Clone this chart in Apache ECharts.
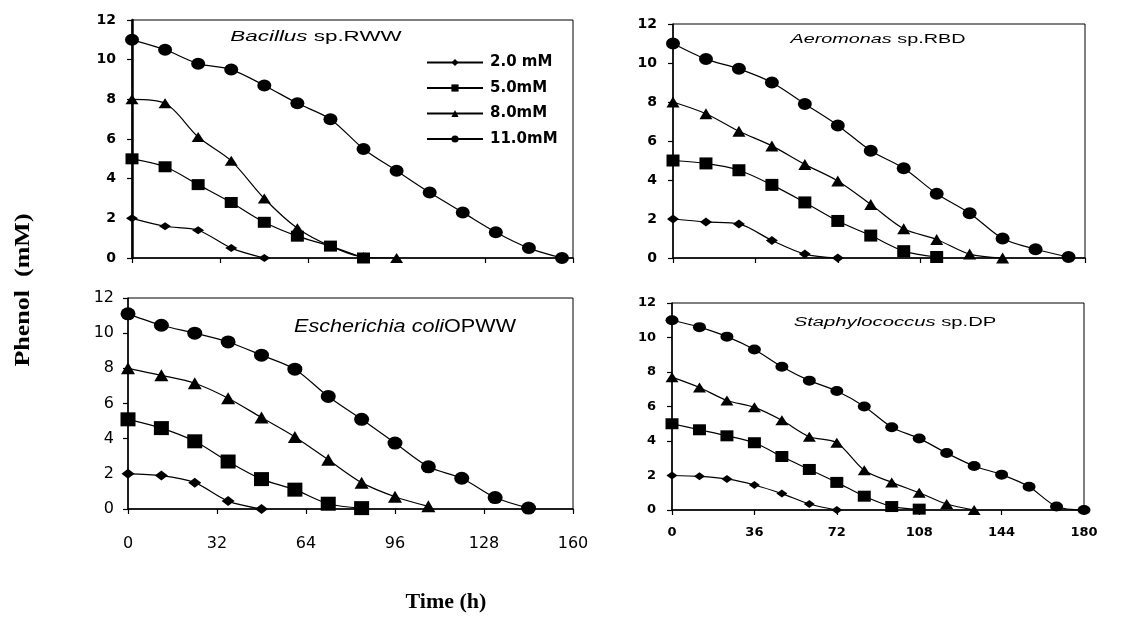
<!DOCTYPE html>
<html>
<head>
<meta charset="utf-8">
<script src="https://cdn.jsdelivr.net/npm/echarts@6/dist/echarts.min.js"></script>
<style>
html, body { margin: 0; padding: 0; background: #fff; }
#main { width: 1141px; height: 619px; }
</style>
</head>
<body>
<div id="main"></div>
<script>
// sampling times (h), every 12 h
var hours = [0, 12, 24, 36, 48, 60, 72, 84, 96, 108, 120, 132, 144, 156, 168, 180];
var seriesNames = ['2.0 mM', '5.0mM', '8.0mM', '11.0mM'];

// Bacillus sp.RWW
var bacillus2 = [2.0, 1.6, 1.4, 0.5, 0];
var bacillus5 = [5.0, 4.6, 3.7, 2.8, 1.8, 1.1, 0.6, 0.0];
var bacillus8 = [8.0, 7.8, 6.1, 4.9, 3.0, 1.5, 0.6, 0.05, 0];
var bacillus11 = [11.0, 10.5, 9.8, 9.5, 8.7, 7.8, 7.0, 5.5, 4.4, 3.3, 2.3, 1.3, 0.5, 0.0];

// Aeromonas sp.RBD
var aeromonas2 = [2.0, 1.85, 1.75, 0.9, 0.2, 0];
var aeromonas5 = [5.0, 4.85, 4.5, 3.75, 2.85, 1.9, 1.15, 0.35, 0.05];
var aeromonas8 = [8.0, 7.4, 6.5, 5.75, 4.8, 3.95, 2.75, 1.5, 0.95, 0.2, 0.0];
var aeromonas11 = [11.0, 10.2, 9.7, 9.0, 7.9, 6.8, 5.5, 4.6, 3.3, 2.3, 1.0, 0.45, 0.05];

// Escherichia coli OPWW
var ecoli2 = [2.0, 1.9, 1.5, 0.45, 0];
var ecoli5 = [5.1, 4.6, 3.85, 2.7, 1.7, 1.1, 0.3, 0.05];
var ecoli8 = [8.0, 7.6, 7.15, 6.3, 5.2, 4.1, 2.8, 1.5, 0.7, 0.15];
var ecoli11 = [11.1, 10.45, 10.0, 9.5, 8.75, 7.95, 6.4, 5.1, 3.75, 2.4, 1.75, 0.65, 0.05];

// Staphylococcus sp.DP
var staph2 = [2.0, 1.95, 1.8, 1.45, 0.95, 0.35, 0];
var staph5 = [5.0, 4.65, 4.3, 3.9, 3.1, 2.35, 1.6, 0.8, 0.2, 0.05];
var staph8 = [7.7, 7.1, 6.35, 5.95, 5.2, 4.25, 3.9, 2.3, 1.6, 1.0, 0.35, 0];
var staph11 = [11.0, 10.6, 10.05, 9.3, 8.3, 7.5, 6.9, 6.0, 4.8, 4.15, 3.3, 2.55, 2.05, 1.35, 0.2, 0.0];

// x axis ranges of the four panels
var xMax = [160, 150, 160, 180];
var xStep = [32, 30, 32, 36];

var panelData = [
	[bacillus2, bacillus5, bacillus8, bacillus11],
	[aeromonas2, aeromonas5, aeromonas8, aeromonas11],
	[ecoli2, ecoli5, ecoli8, ecoli11],
	[staph2, staph5, staph8, staph11]
];

(function() {
	'use strict';

	var chart = echarts.init(document.getElementById('main'));

	var grids = [
		{ left: 132, top: 20, width: 441, height: 238 },
		{ left: 673, top: 24, width: 412, height: 234 },
		{ left: 128, top: 298, width: 445, height: 211 },
		{ left: 672, top: 303, width: 412, height: 207 }
	];
	// label look per panel
	var labelFont = [
		{ fontSize: 14, fontWeight: 'bold', fontFamily: 'DejaVu Sans' },
		{ fontSize: 14, fontWeight: 'bold', fontFamily: 'DejaVu Sans' },
		{ fontSize: 16, fontWeight: 'normal', fontFamily: 'DejaVu Sans' },
		{ fontSize: 13, fontWeight: 'bold', fontFamily: 'DejaVu Sans' }
	];
	var xLabelMargin = [10, 10, 27, 16];
	var yLabelMargin = [16, 16, 14, 16];
	var symbols = ['diamond', 'rect', 'triangle', 'circle'];
	var symbolSizes = [
		[[12, 8], [13, 11], [13, 10], [14, 12]],
		[[12, 9], [13, 12], [13, 11], [14, 12]],
		[[13, 10], [15, 14], [14, 12], [15, 13]],
		[[11, 8], [13, 11], [13, 10], [13, 10]]
	];

	function pairs(vals) {
		return vals.map(function(v, i) { return [hours[i], v]; });
	}

	var xAxes = [], yAxes = [], series = [];
	grids.forEach(function(g, p) {
		g.show = true;
		g.borderColor = '#000';
		g.borderWidth = 1;
		xAxes.push({
			type: 'value', gridIndex: p, min: 0, max: xMax[p], interval: xStep[p],
			splitLine: { show: false },
			axisLine: { onZero: false, lineStyle: { color: '#000', width: 1.5 } },
			axisTick: { inside: false, length: 5, lineStyle: { color: '#000', width: 1.2 } },
			axisLabel: {
				show: p >= 2, color: '#000', margin: xLabelMargin[p],
				fontSize: labelFont[p].fontSize, fontWeight: labelFont[p].fontWeight,
				fontFamily: labelFont[p].fontFamily
			}
		});
		yAxes.push({
			type: 'value', gridIndex: p, min: 0, max: 12, interval: 2,
			splitLine: { show: false },
			axisLine: { onZero: false, lineStyle: { color: '#000', width: p === 0 ? 2.5 : 1.5 } },
			axisTick: { inside: false, length: 5, lineStyle: { color: '#000', width: 1.2 } },
			axisLabel: {
				color: '#000', margin: yLabelMargin[p],
				fontSize: labelFont[p].fontSize, fontWeight: labelFont[p].fontWeight,
				fontFamily: labelFont[p].fontFamily
			}
		});
		panelData[p].forEach(function(vals, k) {
			series.push({
				type: 'line', name: seriesNames[k],
				xAxisIndex: p, yAxisIndex: p,
				data: pairs(vals),
				smooth: 0.3,
				symbol: symbols[k], symbolSize: symbolSizes[p][k],
				showAllSymbol: true,
				lineStyle: { color: '#000', width: 1.2 },
				itemStyle: { color: '#000' },
				emphasis: { disabled: true },
				z: 2 + k
			});
		});
	});

	// panel captions, italic genus + plain strain
	function caption(x, y, genus, rest, size, sx) {
		var f = { fontSize: size, fontFamily: 'Liberation Sans', fill: '#000' };
		return {
			type: 'text', x: x, y: y, scaleX: sx, z: 10,
			style: {
				text: '{i|' + genus + '}{n|' + rest + '}',
				align: 'center', verticalAlign: 'middle',
				fontSize: size, fontFamily: 'Liberation Sans', fill: '#000',
				rich: {
					i: Object.assign({ fontStyle: 'italic' }, f),
					n: f
				}
			}
		};
	}

	var option = {
		animation: false,
		backgroundColor: '#fff',
		grid: grids,
		xAxis: xAxes,
		yAxis: yAxes,
		series: series,
		legend: {
			data: seriesNames,
			orient: 'vertical',
			left: 421, top: 50,
			itemWidth: 56, itemHeight: 9, itemGap: 10.5,
			selectedMode: false,
			textStyle: { color: '#000', fontSize: 15, fontWeight: 'bold', fontFamily: 'DejaVu Sans', padding: [0, 0, 0, 2] }
		},
		graphic: [
			caption(316, 37, 'Bacillus', ' sp.RWW', 14, 1.6),
			caption(878, 40, 'Aeromonas', ' sp.RBD', 12, 1.65),
			caption(405, 327, 'Escherichia coli', 'OPWW', 18, 1.2),
			caption(895, 323, 'Staphylococcus', ' sp.DP', 12.5, 1.62),
			{
				type: 'text', x: 24, y: 290, rotation: Math.PI / 2, scaleX: 1.3,
				style: {
					text: 'Phenol  (mM)', align: 'center', verticalAlign: 'middle',
					fontSize: 20, fontWeight: 'bold', fontFamily: 'Liberation Serif', fill: '#000'
				}
			},
			{
				type: 'text', x: 446, y: 603, scaleX: 1.1,
				style: {
					text: 'Time (h)', align: 'center', verticalAlign: 'middle',
					fontSize: 20, fontWeight: 'bold', fontFamily: 'Liberation Serif', fill: '#000'
				}
			}
		]
	};

	chart.setOption(option);
}());
</script>
</body>
</html>
